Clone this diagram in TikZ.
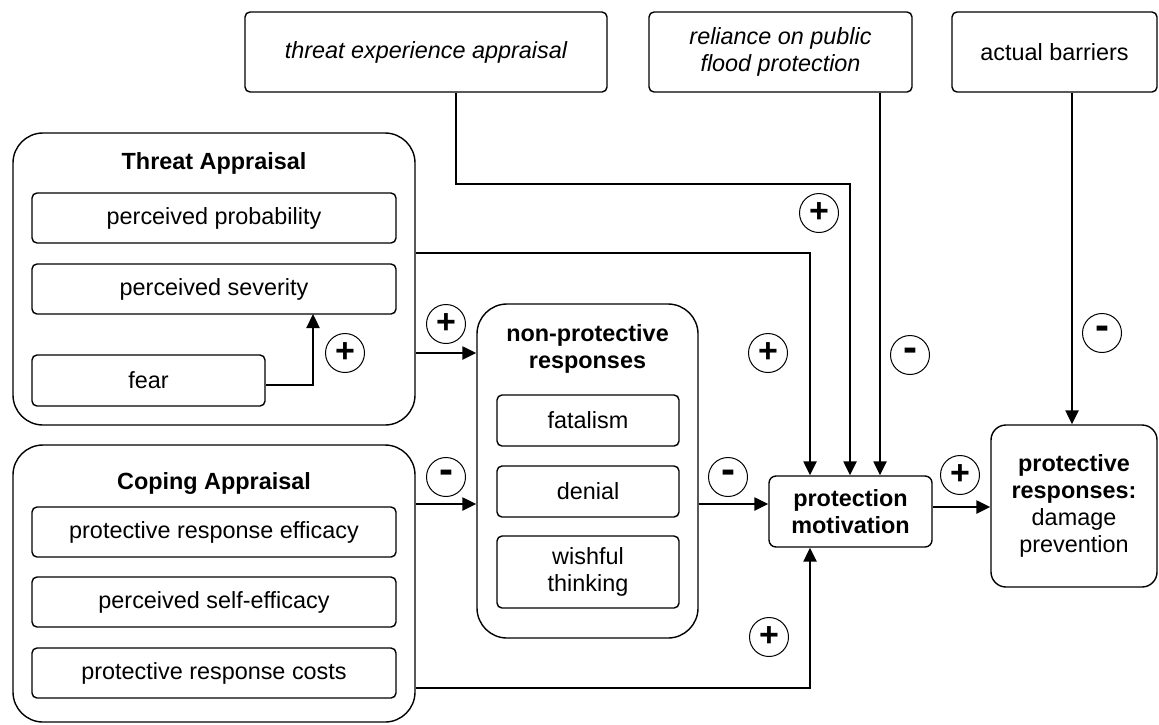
\documentclass[tikz,border=0pt]{standalone}
\usepackage{fontspec}
\setmainfont{Liberation Sans}
\usetikzlibrary{arrows.meta}
\newcommand\fsz{\fontsize{11.7}{13.5}\selectfont}
\newcommand\sgnfont{\fontsize{17}{17}\selectfont\bfseries}
\newcommand\mnsfont{\fontsize{21}{21}\selectfont\bfseries}
\begin{document}
\begin{tikzpicture}[x=0.5pt,y=-0.5pt,
  box/.style={draw, line width=0.7pt, rounded corners=2.5pt, inner sep=0pt, align=center, font=\fsz},
  bigbox/.style={box, rounded corners=15pt},
  ttl/.style={inner sep=0pt, align=center, font=\fsz\bfseries},
  sgn/.style={circle, draw, line width=0.5pt, minimum size=19.5pt, inner sep=0pt, font=\sgnfont},
  mns/.style={sgn, font=\mnsfont},
  arr/.style={line width=1.2pt, -{Triangle[length=7pt,width=6.5pt]}},
  lin/.style={line width=1.2pt}]
\useasboundingbox (0,0) rectangle (1159,724);

% top boxes
\node[box, minimum width=181pt, minimum height=40pt] (tea) at (426,52) {\itshape threat experience appraisal};
\node[box, minimum width=131.5pt, minimum height=40pt] (rel) at (780.5,52) {\itshape reliance on public\\\itshape flood protection};
\node[box, minimum width=102.5pt, minimum height=40pt] (ab) at (1054.5,52) {actual barriers};

% threat appraisal
\node[bigbox, minimum width=201pt, minimum height=146pt] (ta) at (214,279) {};
\node[ttl] (tatitle) at (214,163) {Threat Appraisal};
\node[box, minimum width=182pt, minimum height=25pt] (pp) at (214,218) {perceived probability};
\node[box, minimum width=182pt, minimum height=25pt] (ps) at (214,289) {perceived severity};
\node[box, minimum width=116.5pt, minimum height=25.5pt] (fear) at (148.5,380.5) {fear};

% coping appraisal
\node[bigbox, minimum width=201pt, minimum height=138.5pt] (ca) at (214,583.5) {};
\node[ttl] (catitle) at (214,483) {Coping Appraisal};
\node[box, minimum width=182pt, minimum height=25pt] (pre) at (214,532) {protective response efficacy};
\node[box, minimum width=182pt, minimum height=25pt] (pse) at (214,602) {perceived self-efficacy};
\node[box, minimum width=182pt, minimum height=25pt] (prc) at (214,673) {protective response costs};

% non-protective responses
\node[bigbox, minimum width=110.5pt, minimum height=167pt] (np) at (587.5,471) {};
\node[ttl] (nptitle) at (587.5,349) {non-protective\\responses};
\node[box, minimum width=91pt, minimum height=25.5pt] (fat) at (588,420.5) {fatalism};
\node[box, minimum width=91pt, minimum height=25.5pt] (den) at (588,491.5) {denial};
\node[box, minimum width=91pt, minimum height=36pt] (wt) at (588,572) {wishful\\thinking};

% protection motivation
\node[box, rounded corners=3.5pt, minimum width=81.5pt, minimum height=35.5pt] (pm) at (850.5,511.5) {\bfseries protection\\\bfseries motivation};

% protective responses
\node[box, rounded corners=7.5pt, minimum width=83pt, minimum height=81pt] (pr) at (1074,506) {\bfseries protective\\\bfseries responses:\\damage\\prevention};

% connectors
\coordinate (fearup) at (313,314);
\draw[arr] (fear.east |- 0,385) -| (fearup);
\draw[arr] (ta.east |- 0,353) -- (np.west |- 0,353);
\draw[arr] (ca.east |- 0,504) -- (np.west |- 0,504);
\draw[arr] (np.east |- 0,504) -- (pm.west |- 0,504);
\draw[arr] (ta.east |- 0,253) -| (pm.north -| 810,0);
\coordinate (teabend) at (850,184);
\draw[arr] (tea.south -| 456,0) |- (teabend) -- (pm.north -| 850,0);
\draw[arr] (rel.south -| 880,0) -- (pm.north -| 880,0);
\draw[arr] (ab.south -| 1072,0) -- (pr.north -| 1072,0);
\draw[arr] (ca.east |- 0,688) -| (pm.south -| 810,0);
\draw[arr] (pm.east |- 0,507) -- (pr.west |- 0,507);

% signs
\node[sgn] (s1) at (345,353) {+};
\node[sgn] (s2) at (446,324) {+};
\node[mns] (s3) at (446,477) {-};
\node[mns] (s4) at (728,477) {-};
\node[sgn] (s5) at (768,353) {+};
\node[sgn] (s6) at (819,213) {+};
\node[mns] (s7) at (910,355) {-};
\node[mns] (s8) at (1102,333) {-};
\node[sgn] (s9) at (960,475) {+};
\node[sgn] (s10) at (769,637) {+};
\end{tikzpicture}
\end{document}
